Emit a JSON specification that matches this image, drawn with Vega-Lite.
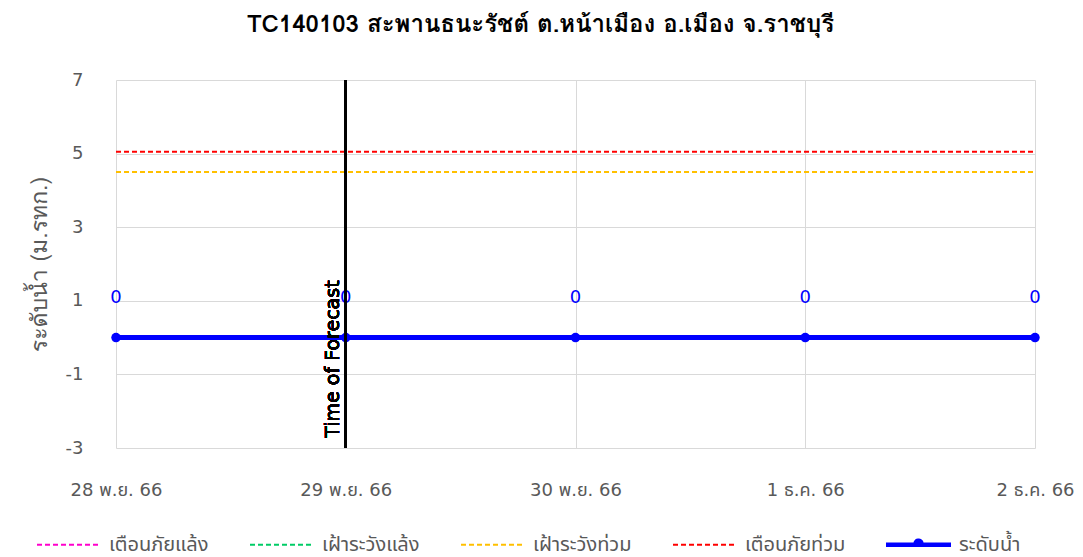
{
  "$schema": "https://vega.github.io/schema/vega-lite/v6.json",
  "width": 919,
  "height": 368,
  "autosize": "none",
  "padding": {"left": 116, "top": 80, "right": 48, "bottom": 109},
  "title": {"text": "TC140103 สะพานธนะรัชต์ ต.หน้าเมือง อ.เมือง จ.ราชบุรี", "fontSize": 24, "fontWeight": "bold", "color": "#000000", "offset": 34, "dx": -35, "font": "Garuda, Loma, Waree, Tahoma, DejaVu Sans, Noto Sans Thai, sans-serif"},
  "config": {"font": "DejaVu Sans, Noto Sans Thai, sans-serif", "view": {"stroke": null}},
  "data": {"values": [
    {"date": "2023-11-28", "series": "เตือนภัยท่วม", "value": 5.05},
    {"date": "2023-11-29", "series": "เตือนภัยท่วม", "value": 5.05},
    {"date": "2023-11-30", "series": "เตือนภัยท่วม", "value": 5.05},
    {"date": "2023-12-01", "series": "เตือนภัยท่วม", "value": 5.05},
    {"date": "2023-12-02", "series": "เตือนภัยท่วม", "value": 5.05},
    {"date": "2023-11-28", "series": "เฝ้าระวังท่วม", "value": 4.5},
    {"date": "2023-11-29", "series": "เฝ้าระวังท่วม", "value": 4.5},
    {"date": "2023-11-30", "series": "เฝ้าระวังท่วม", "value": 4.5},
    {"date": "2023-12-01", "series": "เฝ้าระวังท่วม", "value": 4.5},
    {"date": "2023-12-02", "series": "เฝ้าระวังท่วม", "value": 4.5},
    {"date": "2023-11-28", "series": "ระดับน้ำ", "value": 0},
    {"date": "2023-11-29", "series": "ระดับน้ำ", "value": 0},
    {"date": "2023-11-30", "series": "ระดับน้ำ", "value": 0},
    {"date": "2023-12-01", "series": "ระดับน้ำ", "value": 0},
    {"date": "2023-12-02", "series": "ระดับน้ำ", "value": 0}
  ]},
  "layer": [
    {
      "transform": [{"filter": "datum.series !== 'ระดับน้ำ'"}],
      "mark": {"type": "line", "strokeWidth": 2},
      "encoding": {
        "x": {"field": "date", "type": "temporal",
          "scale": {"type": "utc", "domain": [{"year": 2023, "month": 11, "date": 28, "utc": true}, {"year": 2023, "month": 12, "date": 2, "utc": true}]},
          "axis": {"title": null, "values": [
              {"year": 2023, "month": 11, "date": 28, "utc": true},
              {"year": 2023, "month": 11, "date": 29, "utc": true},
              {"year": 2023, "month": 11, "date": 30, "utc": true},
              {"year": 2023, "month": 12, "date": 1, "utc": true},
              {"year": 2023, "month": 12, "date": 2, "utc": true}],
            "labelExpr": "utcdate(datum.value) + ' ' + (utcmonth(datum.value) == 10 ? 'พ.ย.' : 'ธ.ค.') + ' 66'",
            "grid": true, "gridColor": "#D9D9D9", "gridWidth": 1, "domain": false, "ticks": false,
            "labelPadding": 33, "labelFontSize": 18, "labelColor": "#595959", "labelFlush": false}},
        "y": {"field": "value", "type": "quantitative",
          "scale": {"domain": [-3, 7], "nice": false, "zero": false},
          "axis": {"title": "ระดับน้ำ (ม.รทก.)", "values": [-3, -1, 1, 3, 5, 7],
            "labelExpr": "'' + datum.value",
            "grid": true, "gridColor": "#D9D9D9", "domain": false, "ticks": false,
            "labelPadding": 33, "labelFontSize": 18, "labelColor": "#595959",
            "titleFont": "Garuda, Loma, Waree, Tahoma, Noto Sans Thai, sans-serif",
            "titleFontSize": 23, "titleFontWeight": "normal", "titleColor": "#595959", "titlePadding": 14}},
        "color": {"field": "series", "type": "nominal",
          "scale": {"domain": ["เตือนภัยแล้ง", "เฝ้าระวังแล้ง", "เฝ้าระวังท่วม", "เตือนภัยท่วม", "ระดับน้ำ"],
                    "range": ["#FF00CC", "#00CC66", "#FFC000", "#FF0000", "#0000FF"]},
          "legend": {"orient": "none", "legendX": -80, "legendY": 432, "direction": "horizontal", "title": null,
            "symbolType": "stroke", "symbolSize": 3969, "symbolStrokeWidth": 2, "symbolFillColor": "#0000FF",
            "labelFontSize": 20, "labelColor": "#595959", "columnPadding": 37, "labelOffset": 8, "labelLimit": 200,
            "encode": {"symbols": {"update": {
              "shape": {"signal": "datum.value === 'ระดับน้ำ' ? 'M-1,-0.04L-0.13,-0.04A0.13,0.13 0 0,1 0.13,-0.04L1,-0.04L1,0.04L-1,0.04Z' : 'stroke'"},
              "fill": {"value": "#0000FF"}}}}}},
        "strokeDash": {"field": "series", "type": "nominal",
          "scale": {"domain": ["เตือนภัยแล้ง", "เฝ้าระวังแล้ง", "เฝ้าระวังท่วม", "เตือนภัยท่วม", "ระดับน้ำ"],
                    "range": [[5, 3], [5, 3], [5, 3], [5, 3], [1, 0]]},
          "legend": {"orient": "none", "legendX": -80, "legendY": 432, "direction": "horizontal", "title": null,
            "symbolType": "stroke", "symbolSize": 3969, "symbolStrokeWidth": 2, "symbolFillColor": "#0000FF",
            "labelFontSize": 20, "labelColor": "#595959", "columnPadding": 37, "labelOffset": 8, "labelLimit": 200}}
      }
    },
    {
      "transform": [{"filter": "datum.series === 'ระดับน้ำ'"}],
      "mark": {"type": "line", "strokeWidth": 5, "color": "#0000FF"},
      "encoding": {
        "x": {"field": "date", "type": "temporal"},
        "y": {"field": "value", "type": "quantitative"}
      }
    },
    {
      "transform": [{"filter": "datum.series === 'ระดับน้ำ'"}],
      "mark": {"type": "circle", "size": 90, "color": "#0000FF", "opacity": 1},
      "encoding": {
        "x": {"field": "date", "type": "temporal"},
        "y": {"field": "value", "type": "quantitative"}
      }
    },
    {
      "transform": [{"filter": "datum.series === 'ระดับน้ำ'"}],
      "mark": {"type": "text", "dy": -40, "fontSize": 18, "fontWeight": "normal", "color": "#0000FF"},
      "encoding": {
        "x": {"field": "date", "type": "temporal"},
        "y": {"field": "value", "type": "quantitative"},
        "text": {"field": "value", "type": "quantitative"}
      }
    },
    {
      "mark": {"type": "rule", "color": "#000000", "strokeWidth": 2},
      "encoding": {
        "x": {"datum": {"year": 2023, "month": 11, "date": 29, "utc": true}, "type": "temporal"}
      }
    },
    {
      "mark": {"type": "text", "angle": 270, "align": "left", "baseline": "bottom", "fontSize": 19, "color": "#000000", "dy": -3},
      "encoding": {
        "x": {"datum": {"year": 2023, "month": 11, "date": 29, "utc": true}, "type": "temporal"},
        "y": {"datum": -2.72, "type": "quantitative"},
        "text": {"value": "Time of Forecast"}
      }
    }
  ]
}
